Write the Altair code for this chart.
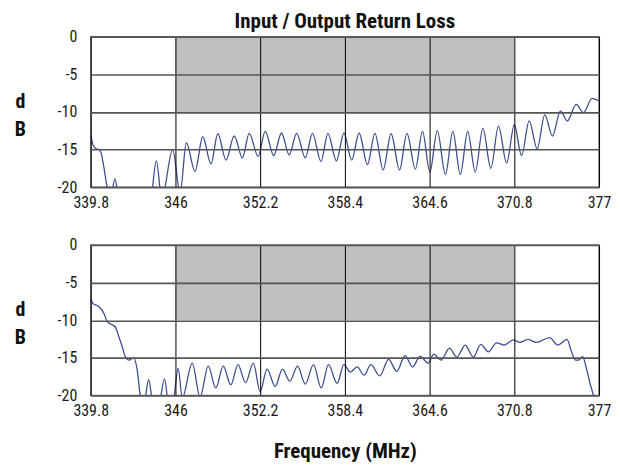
import altair as alt
import pandas as pd

# ---------------- data ----------------
x_ticks = [339.8, 346, 352.2, 358.4, 364.6, 370.8, 377]
y_ticks = [0, -5, -10, -15, -20]

band_start = [346]
band_end = [370.8]
band_top = [0]
band_bottom = [-10]

top_freq = [339.8, 339.97, 340.2, 340.4, 340.55, 340.75, 341.0, 341.25, 341.57, 341.85,
            342.5, 343.5, 344.2, 344.6, 345.0, 345.8, 346.34, 346.8, 347.43, 348.0,
            348.6, 349.1, 349.7, 350.3, 350.9, 351.4, 352.05, 352.57, 353.19, 353.76,
            354.32, 354.87, 355.5, 356.03, 356.65, 357.16, 357.78, 358.33, 358.9, 359.44,
            360.05, 360.6, 361.2, 361.78, 362.4, 362.94, 363.56, 364.08, 364.62, 365.16,
            365.76, 366.3, 366.85, 367.39, 367.94, 368.5, 369.08, 369.64, 370.24, 370.8,
            371.33, 371.89, 372.47, 373.03, 373.59, 374.17, 374.68, 375.33, 375.86, 376.49,
            377.0]
top_db = [-13.0, -14.4, -14.9, -15.0, -15.4, -17.2, -20.0, -21.5, -18.9, -21.5,
          -23.0, -23.0, -21.5, -16.5, -21.5, -15.0, -20.8, -14.1, -17.9, -13.3,
          -16.9, -12.9, -16.4, -13.2, -16.1, -12.85, -15.9, -12.6, -15.8, -12.8,
          -15.7, -12.85, -16.1, -12.85, -16.6, -12.85, -16.5, -12.8, -16.4, -12.8,
          -17.0, -12.85, -17.7, -12.9, -17.7, -12.85, -17.6, -12.6, -18.0, -12.5,
          -18.3, -12.6, -18.3, -12.6, -18.0, -12.2, -17.5, -11.9, -16.8, -11.7,
          -15.8, -11.2, -14.9, -10.4, -13.2, -9.9, -11.2, -9.0, -10.1, -8.2,
          -8.55]

bot_freq = [339.8, 339.97, 340.4, 340.77, 341.0, 341.25, 341.6, 341.86, 342.1, 342.34,
            342.6, 342.95, 343.2, 343.43, 343.7, 344.04, 344.35, 344.75, 345.2, 345.5,
            345.8, 346.2, 346.5, 347.23, 347.8, 348.4, 348.95, 349.5, 350.05, 350.58,
            351.13, 351.7, 352.2, 352.7, 353.3, 353.83, 354.37, 354.94, 355.5, 356.1,
            356.67, 357.2, 357.83, 358.33, 358.8, 359.3, 359.8, 360.3, 360.95, 361.6,
            362.2, 362.8, 363.35, 363.9, 364.5, 364.9, 365.45, 366.05, 366.6, 367.2,
            367.8, 368.35, 368.9, 369.5, 370.05, 370.73, 371.2, 371.8, 372.4, 373.38,
            373.98, 374.66, 374.95, 375.28, 375.5, 375.8, 376.1, 376.4, 376.6, 377.0]
bot_db = [-7.1, -7.8, -8.2, -9.1, -10.2, -10.5, -10.9, -12.2, -13.5, -14.9,
          -15.3, -15.0, -16.6, -20.0, -21.0, -17.9, -21.0, -21.5, -17.8, -21.0,
          -21.0, -16.4, -20.3, -15.7, -20.2, -16.1, -19.0, -16.1, -18.6, -15.9,
          -18.3, -15.7, -19.5, -16.5, -18.8, -16.5, -18.1, -16.1, -18.5, -15.9,
          -19.0, -15.9, -18.4, -15.9, -16.9, -16.2, -17.3, -15.9, -17.4, -15.2,
          -16.8, -14.7, -16.2, -14.8, -15.7, -14.5, -15.3, -13.7, -14.9, -13.3,
          -14.9, -13.2, -14.2, -13.0, -13.3, -12.6, -12.95, -12.55, -12.95, -12.3,
          -13.3, -12.55, -14.0, -15.3, -15.3, -14.85, -16.6, -18.8, -20.0, -22.0]

FONT = "Liberation Sans Narrow, Arial Narrow, Roboto Condensed, DejaVu Sans Condensed, sans-serif"
LINE_COLOR = "#3d4f8f"


def panel(freq, db, xtitle=None, title=None):
    df = pd.DataFrame({"f": freq, "db": db})
    band_df = pd.DataFrame({"start": band_start, "end": band_end,
                            "top": band_top, "bottom": band_bottom})
    xscale = alt.Scale(domain=[339.8, 377], nice=False, zero=False)
    yscale = alt.Scale(domain=[-20, 0], nice=False, zero=False)
    xaxis_kw = dict(values=x_ticks, labelExpr="datum.value + ''", grid=True,
                    gridColor="#000000", gridWidth=1, ticks=False, domain=False,
                    labelPadding=7, labelFontSize=16, labelColor="#1a1a1a",
                    zindex=1, labelFlush=False, labelOverlap=False)
    if xtitle:
        xaxis = alt.Axis(title=xtitle, titleFontSize=21, titleFontWeight="bold",
                         titlePadding=22, titleColor="#111111", **xaxis_kw)
    else:
        xaxis = alt.Axis(title=None, **xaxis_kw)
    yaxis = alt.Axis(values=y_ticks, labelExpr="datum.value + ''", grid=True,
                     gridColor="#555555", gridWidth=1.6, ticks=False, domain=False,
                     labelPadding=14, labelFontSize=16, labelColor="#1a1a1a",
                     zindex=1, labelOverlap=False,
                     title=["d", "B"], titleAngle=0, titleFontSize=20,
                     titleFontWeight="bold", titleColor="#111111",
                     titleAlign="center", titleBaseline="middle",
                     titleLineHeight=28, titleX=-71, titleY=65)
    rect = alt.Chart(band_df).mark_rect(color="#c0c0c0").encode(
        x=alt.X("start:Q", scale=xscale, axis=xaxis),
        x2="end:Q",
        y=alt.Y("top:Q", scale=yscale, axis=yaxis),
        y2="bottom:Q",
    )
    line = alt.Chart(df).mark_line(color=LINE_COLOR, strokeWidth=1.3,
                                   interpolate="monotone", clip=True).encode(
        x=alt.X("f:Q", scale=xscale, axis=xaxis),
        y=alt.Y("db:Q", scale=yscale, axis=yaxis),
    )
    props = dict(width=510, height=151)
    if title:
        props["title"] = alt.TitleParams(title, fontSize=21, fontWeight="bold",
                                         font=FONT, anchor="middle", offset=-3,
                                         color="#111111")
    return alt.layer(rect, line).properties(**props)


top = panel(top_freq, top_db, title="Input / Output Return Loss")
bottom = panel(bot_freq, bot_db, xtitle="Frequency (MHz)")

chart = alt.vconcat(top, bottom, spacing=25).properties(
    padding={"left": 5, "top": 1, "right": 0, "bottom": 0}
).configure_axis(
    labelFont=FONT, titleFont=FONT
).configure_view(
    stroke="#707070", strokeWidth=1.5
)

chart.save("out.html", embed_options={"renderer": "svg", "actions": False})
